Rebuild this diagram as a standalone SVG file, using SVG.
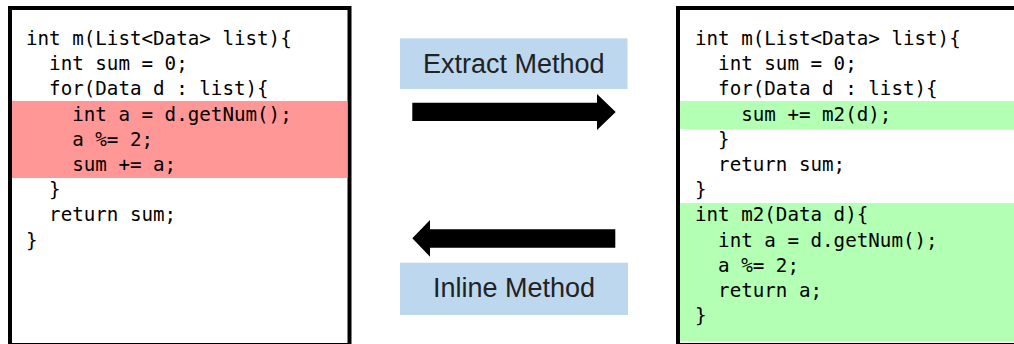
<svg xmlns="http://www.w3.org/2000/svg" width="1014" height="344" viewBox="0 0 1014 344">
<style>
.frame{fill:#fff;stroke:#000;stroke-width:4}
.code{font-family:"DejaVu Sans Mono","Liberation Mono",monospace;font-size:19.2px;fill:#000;white-space:pre}
.lbl{fill:#BDD7EE}
.lbltxt{font-family:"Liberation Sans",Arial,sans-serif;font-size:27px;fill:#222;text-anchor:middle}
.arrow{fill:#000}
</style>
<rect width="1014" height="344" fill="#fff"/>
<g id="before">
<rect class="frame" x="10" y="8" width="339.5" height="337"/>
<rect x="12" y="101" width="335.5" height="77" fill="#FF9797"/>
<text class="code" xml:space="preserve"><tspan x="26" y="45">int m(List&lt;Data&gt; list){</tspan><tspan x="26" y="70.2">  int sum = 0;</tspan><tspan x="26" y="95.4">  for(Data d : list){</tspan><tspan x="26" y="120.6">    int a = d.getNum();</tspan><tspan x="26" y="145.8">    a %= 2;</tspan><tspan x="26" y="171">    sum += a;</tspan><tspan x="26" y="196.2">  }</tspan><tspan x="26" y="221.4">  return sum;</tspan><tspan x="26" y="246.6">}</tspan></text>
</g>
<g id="after">
<rect class="frame" x="678" y="8" width="345" height="337"/>
<rect x="680" y="101" width="334" height="28" fill="#B3FFB3"/>
<rect x="680" y="203" width="334" height="138.5" fill="#B3FFB3"/>
<text class="code" xml:space="preserve"><tspan x="695" y="45">int m(List&lt;Data&gt; list){</tspan><tspan x="695" y="70.2">  int sum = 0;</tspan><tspan x="695" y="95.4">  for(Data d : list){</tspan><tspan x="695" y="120.6">    sum += m2(d);</tspan><tspan x="695" y="145.8">  }</tspan><tspan x="695" y="171">  return sum;</tspan><tspan x="695" y="196.2">}</tspan><tspan x="695" y="221.4">int m2(Data d){</tspan><tspan x="695" y="246.6">  int a = d.getNum();</tspan><tspan x="695" y="271.8">  a %= 2;</tspan><tspan x="695" y="297">  return a;</tspan><tspan x="695" y="322.2">}</tspan></text>
</g>
<g id="extract-label">
<rect class="lbl" x="400" y="38.3" width="227.5" height="50.7"/>
<text class="lbltxt" x="513.7" y="72.7">Extract Method</text>
</g>
<g id="inline-label">
<rect class="lbl" x="400" y="262.7" width="228" height="52.3"/>
<text class="lbltxt" x="514" y="296.7">Inline Method</text>
</g>
<g id="connectors">
<polygon class="arrow" points="412.3,102.7 597,102.7 597,94 615.7,112 597,130 597,121 412.3,121"/>
<polygon class="arrow" points="615.3,229.3 430,229.3 430,220 412.3,238.3 430,256.7 430,247.7 615.3,247.7"/>
</g>
</svg>
